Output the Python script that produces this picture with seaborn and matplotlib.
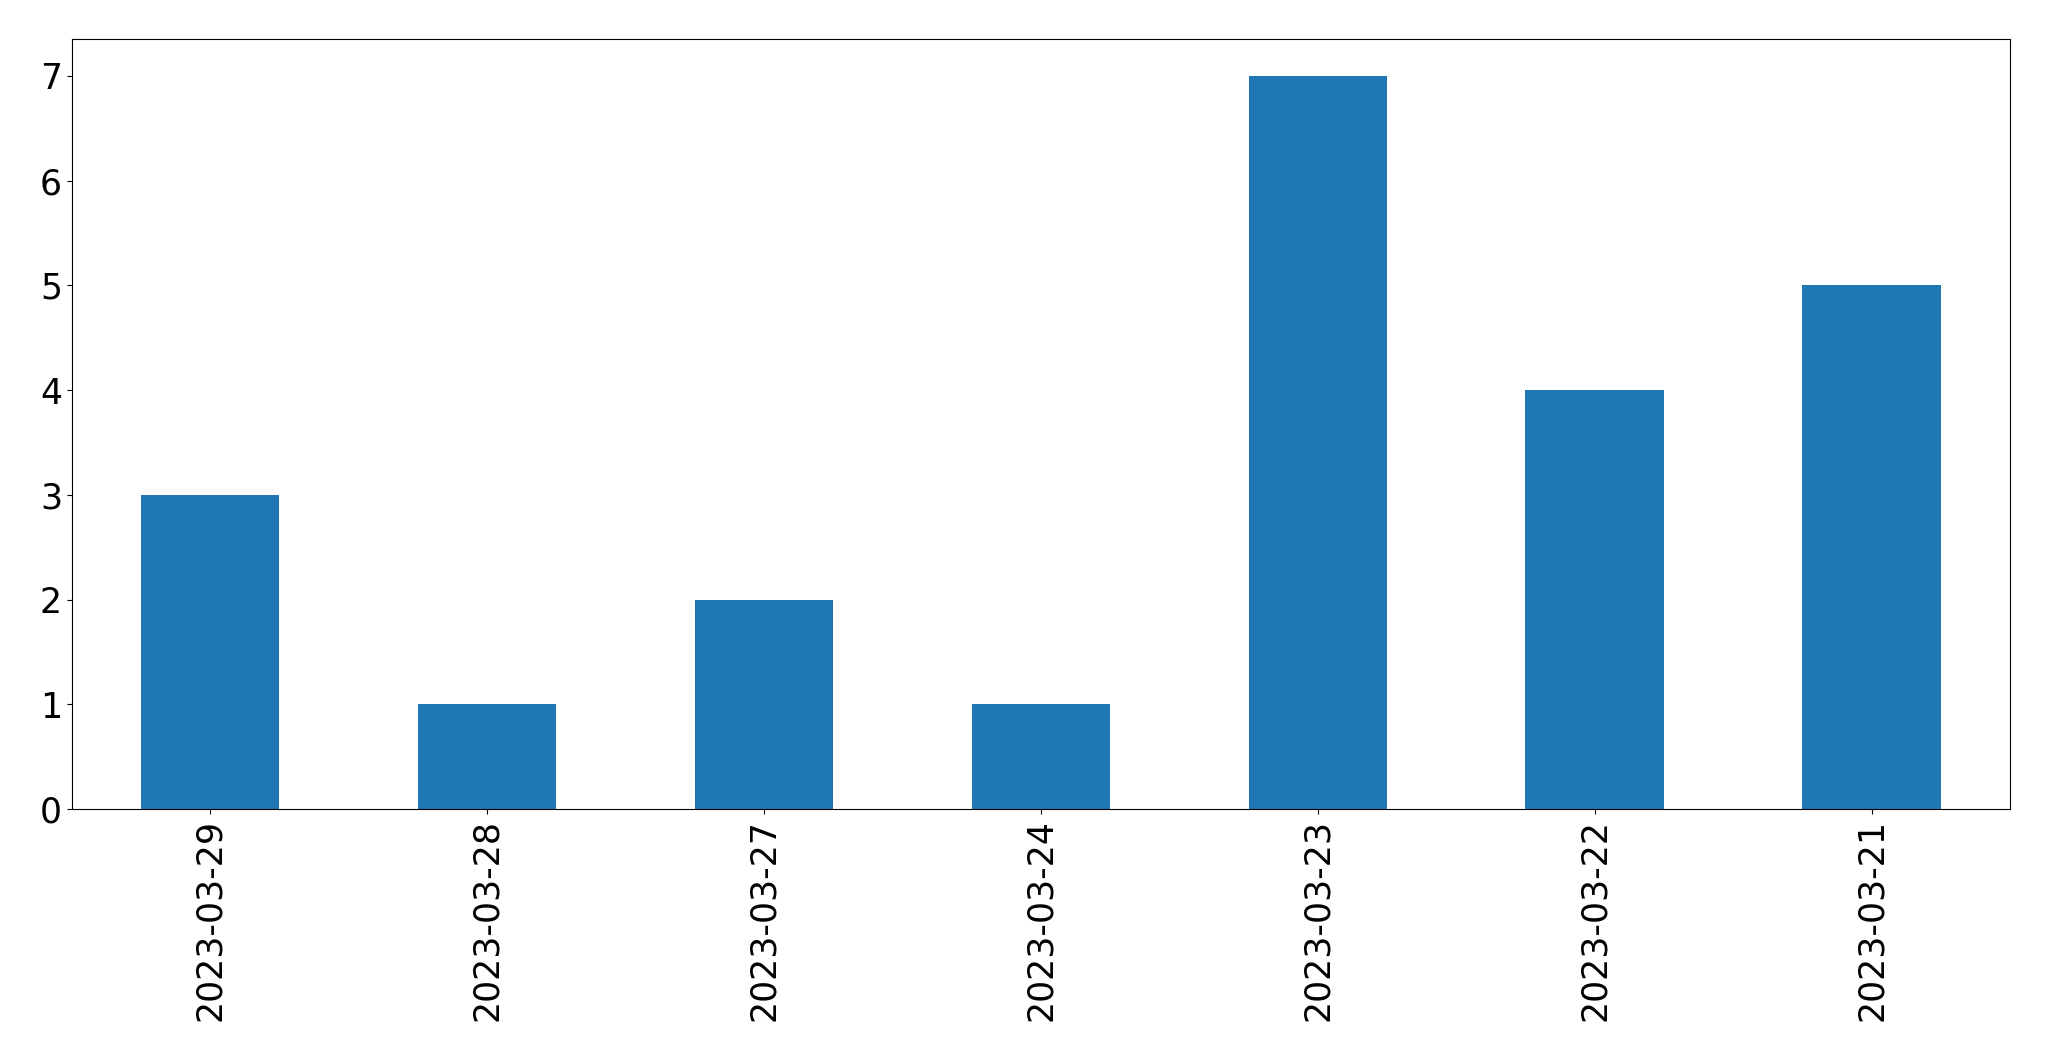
import matplotlib
matplotlib.use('Agg')
import matplotlib.pyplot as plt
import seaborn as sns
import pandas as pd

# bar categories and counts
dates = ['2023-03-29', '2023-03-28', '2023-03-27', '2023-03-24',
         '2023-03-23', '2023-03-22', '2023-03-21']
counts = [3, 1, 2, 1, 7, 4, 5]

df = pd.DataFrame({'date': dates, 'count': counts})

fig, ax = plt.subplots(figsize=(20.49, 10.61), dpi=100)
sns.barplot(data=df, x='date', y='count', order=dates, color='#1f77b4',
            saturation=1, width=0.5, ax=ax)

ax.set_xlabel('')
ax.set_ylabel('')
ax.set_ylim(0, 7.35)
ax.set_xlim(-0.5, len(dates) - 0.5)
ax.tick_params(axis='both', labelsize=25)
plt.setp(ax.get_xticklabels(), rotation=90)

fig.subplots_adjust(left=0.035, right=0.981, top=0.963, bottom=0.2375)
fig.savefig('out.png', dpi=100)
